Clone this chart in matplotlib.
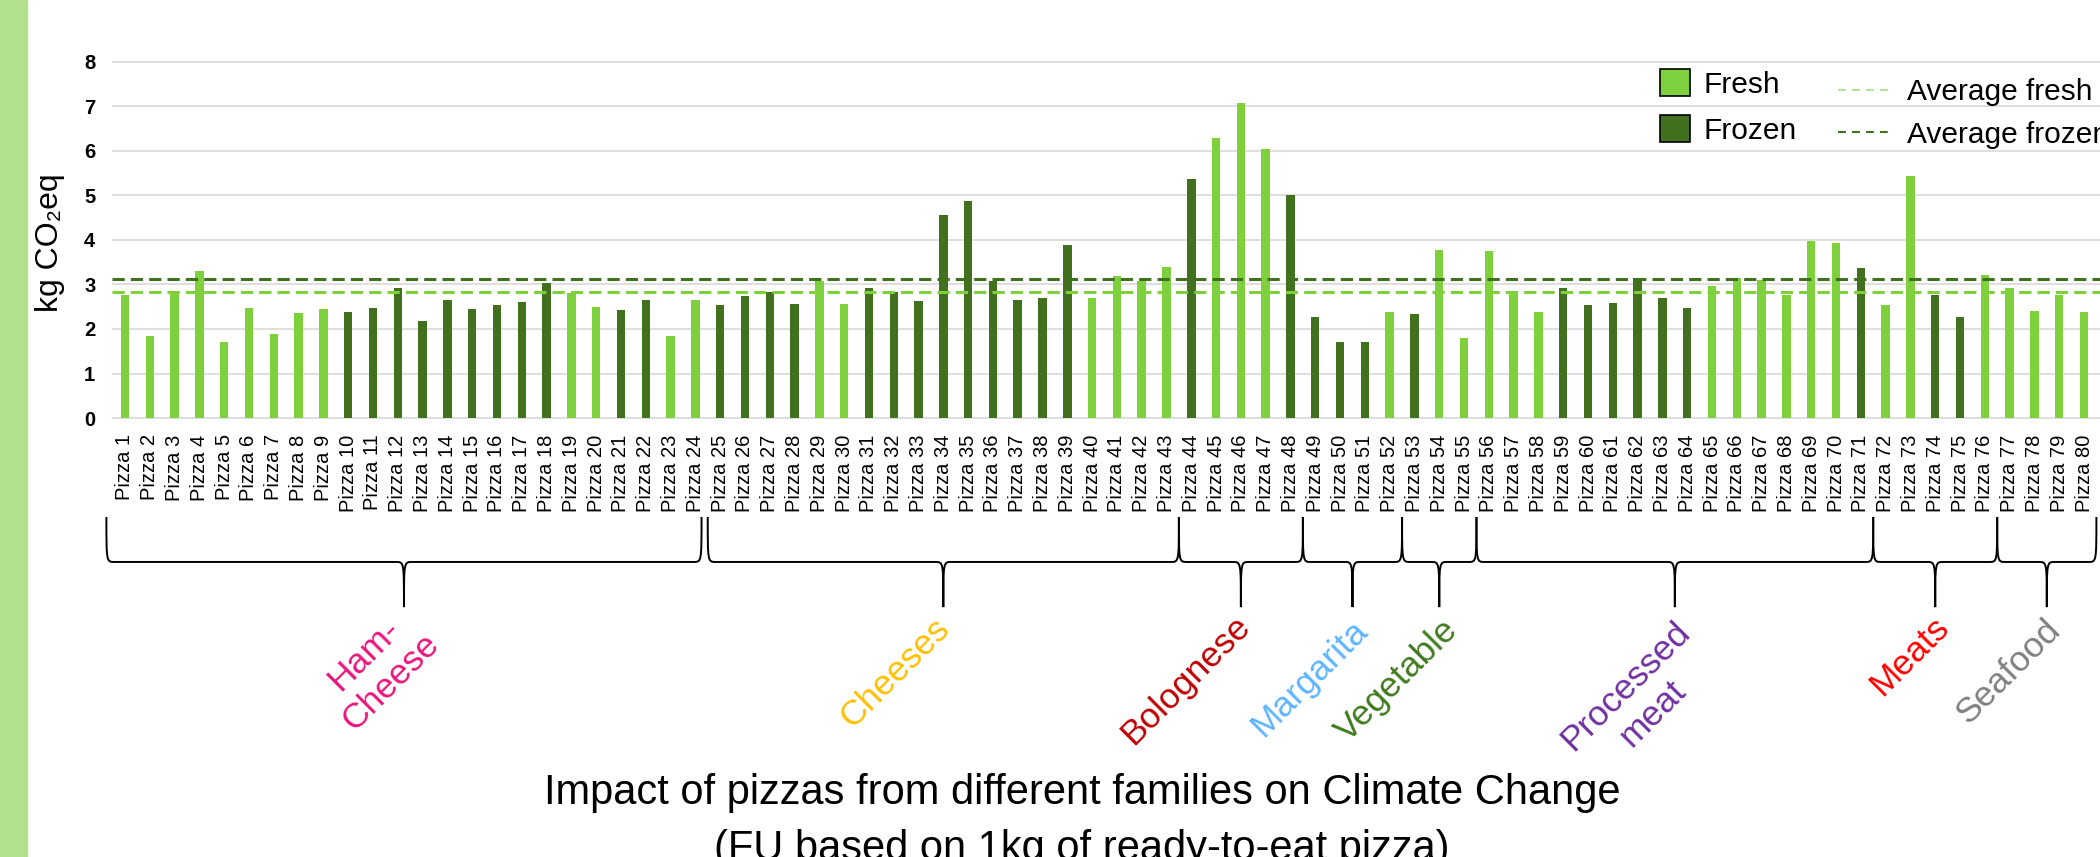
import matplotlib
matplotlib.use("Agg")
import matplotlib.pyplot as plt
from matplotlib.path import Path
from matplotlib.patches import PathPatch, Patch, Rectangle
from matplotlib.lines import Line2D
from matplotlib.transforms import blended_transform_factory

plt.rcParams['font.family'] = ['Liberation Sans', 'DejaVu Sans']

# ------------------------------
# data
# ------------------------------
pizzas = [f"Pizza {i}" for i in range(1, 81)]

impact = [2.77, 1.84, 2.84, 3.31, 1.71, 2.46, 1.88, 2.35, 2.44, 2.37,
          2.46, 2.93, 2.17, 2.66, 2.44, 2.53, 2.60, 3.04, 2.80, 2.49,
          2.42, 2.66, 1.84, 2.64, 2.53, 2.73, 2.84, 2.55, 3.07, 2.57,
          2.91, 2.82, 2.62, 4.56, 4.87, 3.07, 2.64, 2.69, 3.89, 2.69,
          3.18, 3.07, 3.38, 5.36, 6.28, 7.08, 6.03, 5.01, 2.28, 1.70,
          1.70, 2.39, 2.34, 3.77, 1.80, 3.75, 2.82, 2.39, 2.92, 2.54,
          2.59, 3.14, 2.69, 2.46, 2.97, 3.15, 3.10, 2.77, 3.98, 3.93,
          3.37, 2.54, 5.43, 2.77, 2.28, 3.21, 2.92, 2.41, 2.77, 2.37]

# F = fresh, Z = frozen
storage = list("FFFFFFFFF" "ZZZZZZZZZ" "FF" "ZZ" "FF" "ZZZZ" "FF"
               "ZZZZZZZZZ" "FFFF" "Z" "FFF" "ZZZZ" "F" "Z" "FFFFF"
               "ZZZZZZ" "FFFFFF" "Z" "FF" "ZZ" "FFFFF")

avg_fresh = 2.83
avg_frozen = 3.13

families = ["Ham-\nCheese", "Cheeses", "Bolognese", "Margarita", "Vegetable",
            "Processed\nmeat", "Meats", "Seafood"]
family_first = [1, 25, 44, 49, 53, 56, 72, 77]
family_last = [24, 43, 48, 52, 55, 71, 76, 80]
family_colors = ["#E8177D", "#FFC000", "#C00000", "#5DB4FF", "#3F7A1E",
                 "#7030A0", "#FF0000", "#808080"]

FRESH = "#7ED13C"
FROZEN = "#41701E"

# ------------------------------
# figure
# ------------------------------
fig = plt.figure(figsize=(21, 8.57), dpi=100)
fig.patches.append(Rectangle((0, 0), 27 / 2100, 1, transform=fig.transFigure,
                             color="#B2E08C", zorder=0))

ax = fig.add_axes([112 / 2100, 1 - 419 / 857, 1 - 112 / 2100, (419 - 60.7) / 857])

x = list(range(1, 81))
bar_colors = [FRESH if s == "F" else FROZEN for s in storage]
ax.bar(x, impact, width=0.34, color=bar_colors, zorder=3)

ax.axhline(avg_fresh, color=FRESH, lw=2.2, dashes=(4, 2), zorder=4)
ax.axhline(avg_frozen, color=FROZEN, lw=2.2, dashes=(4, 2), zorder=4)

ax.set_xlim(0.476, 80.645)
ax.set_ylim(-0.02, 8.02)
ax.set_yticks(range(0, 9))
ax.grid(axis="y", color="#D9D9D9", lw=1.2, zorder=0)
for s in ax.spines.values():
    s.set_visible(False)

ax.set_xticks(x)
ax.set_xticklabels(pizzas, rotation=90, fontsize=14.5)
ax.tick_params(axis="x", length=0, pad=11)
ax.tick_params(axis="y", length=0, pad=12, labelsize=14.5)
for t in ax.get_yticklabels():
    t.set_fontweight("bold")

fig.text(50 / 2100, 1 - 243 / 857, "kg CO₂eq", rotation=90, fontsize=23,
         ha="center", va="center")

# ------------------------------
# legends
# ------------------------------
bar_handles = [Patch(facecolor=FRESH, edgecolor="black", lw=1.2, label="Fresh"),
               Patch(facecolor=FROZEN, edgecolor="black", lw=1.2, label="Frozen")]
leg1 = fig.legend(handles=bar_handles, loc="upper left",
                  bbox_to_anchor=(1660 / 2100, 1 - 69 / 857), frameon=False,
                  fontsize=21.5, handlelength=1.0, handleheight=1.0,
                  handletextpad=0.45, labelspacing=0.55, borderpad=0,
                  borderaxespad=0)
line_handles = [Line2D([], [], color="#B4E39A", lw=1.5, dashes=(3.8, 2.9),
                       label="Average fresh"),
                Line2D([], [], color=FROZEN, lw=1.5, dashes=(3.8, 2.9),
                       label="Average frozen")]
leg2 = fig.legend(handles=line_handles, loc="upper left",
                  bbox_to_anchor=(1838 / 2100, 1 - 78 / 857), frameon=False,
                  fontsize=21.5, handlelength=1.84, handletextpad=0.47,
                  labelspacing=0.5, borderpad=0, borderaxespad=0)

# ------------------------------
# braces + family names
# ------------------------------
trans = blended_transform_factory(ax.transData, ax.transAxes)
y_top, y_mid, y_tip = -0.2735, -0.399, -0.525


def brace(x0, x1, w=0.32):
    xc = (x0 + x1) / 2
    verts = [(x0, y_top), (x0, y_mid), (x0, y_mid), (x0 + w, y_mid),
             (xc - w, y_mid),
             (xc, y_mid), (xc, y_mid), (xc, y_tip),
             (xc, y_mid), (xc, y_mid), (xc + w, y_mid),
             (x1 - w, y_mid),
             (x1, y_mid), (x1, y_mid), (x1, y_top)]
    codes = [Path.MOVETO, Path.CURVE4, Path.CURVE4, Path.CURVE4,
             Path.LINETO,
             Path.CURVE4, Path.CURVE4, Path.CURVE4,
             Path.CURVE4, Path.CURVE4, Path.CURVE4,
             Path.LINETO,
             Path.CURVE4, Path.CURVE4, Path.CURVE4]
    ax.add_patch(PathPatch(Path(verts, codes), fill=False, ec="black", lw=1.4,
                           transform=trans, clip_on=False))
    return xc


label_offsets = [(12, -13), (1, -12), (3, -10), (7, -13), (10, -13),
                 (17, -24), (6, -11), (6, -13)]

for i, name in enumerate(families):
    lo = family_first[i] - 0.5
    hi = family_last[i] + 0.5
    if i == 0:
        lo, hi = lo - 0.25, hi - 0.25
    xc = brace(lo, hi)
    ax.annotate(name, xy=(xc, y_tip), xycoords=trans,
                xytext=label_offsets[i], textcoords="offset points",
                rotation=45, rotation_mode="anchor", ha="right", va="center",
                multialignment="center", color=family_colors[i], fontsize=25.5,
                annotation_clip=False)

fig.text(1082 / 2100, (857 - 804) / 857,
         "Impact of pizzas from different families on Climate Change",
         ha="center", va="baseline", fontsize=30)
fig.text(1082 / 2100, (857 - 860) / 857,
         "(FU based on 1kg of ready-to-eat pizza)",
         ha="center", va="baseline", fontsize=30)

fig.savefig("out.png", dpi=100)
